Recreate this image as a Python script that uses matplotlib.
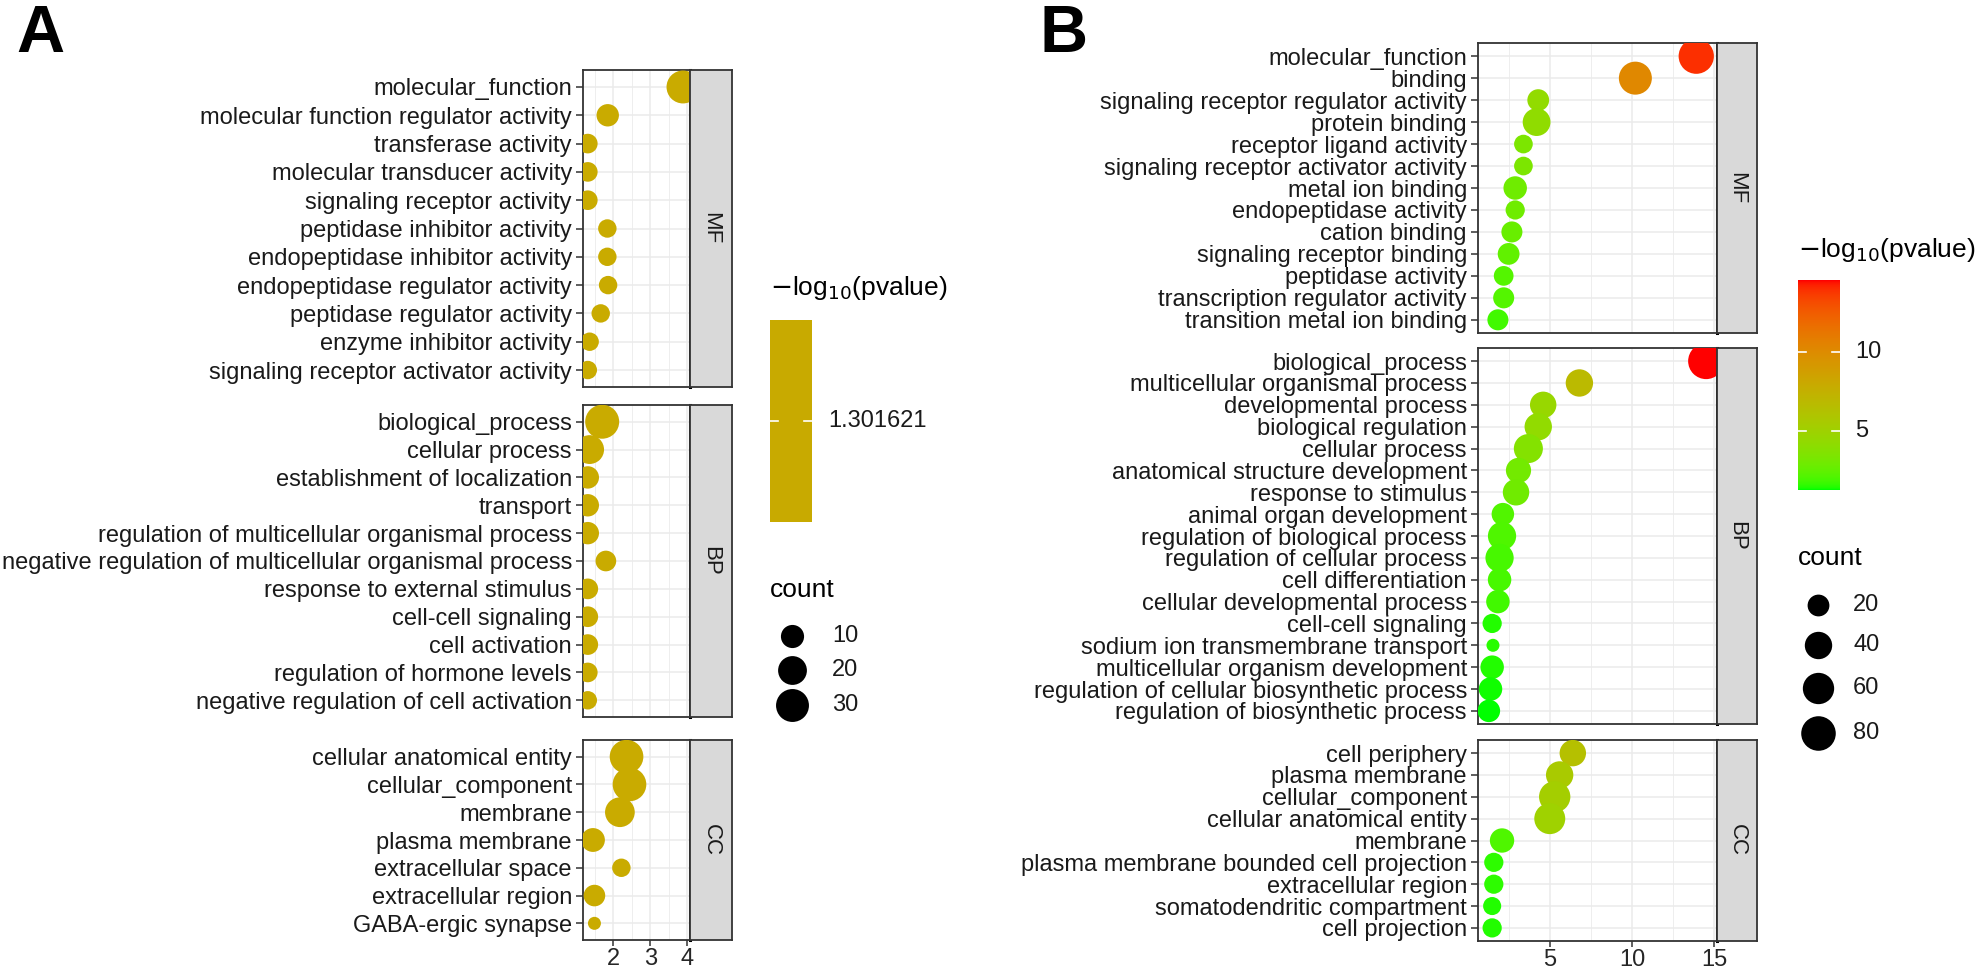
import numpy as np
import matplotlib
matplotlib.use('Agg')
import matplotlib.pyplot as plt
from matplotlib.colors import ListedColormap, Normalize

plt.rcParams['font.family'] = ['Liberation Sans', 'DejaVu Sans']

W, H = 1985, 975

# ---- panel A data ----
a_mf_terms = ['molecular_function', 'molecular function regulator activity', 'transferase activity',
              'molecular transducer activity', 'signaling receptor activity', 'peptidase inhibitor activity',
              'endopeptidase inhibitor activity', 'endopeptidase regulator activity',
              'peptidase regulator activity', 'enzyme inhibitor activity', 'signaling receptor activator activity']
a_mf_x = [3.89, 1.85, 1.31, 1.31, 1.31, 1.84, 1.84, 1.86, 1.66, 1.36, 1.31]
a_mf_count = [30, 9, 6, 6, 6, 5, 5, 5, 5, 5, 5]

a_bp_terms = ['biological_process', 'cellular process', 'establishment of localization', 'transport',
              'regulation of multicellular organismal process',
              'negative regulation of multicellular organismal process', 'response to external stimulus',
              'cell-cell signaling', 'cell activation', 'regulation of hormone levels',
              'negative regulation of cell activation']
a_bp_x = [1.70, 1.36, 1.31, 1.31, 1.31, 1.80, 1.31, 1.31, 1.31, 1.31, 1.31]
a_bp_count = [33, 20, 9, 9, 9, 7, 7, 7, 7, 6, 5]

a_cc_terms = ['cellular anatomical entity', 'cellular_component', 'membrane', 'plasma membrane',
              'extracellular space', 'extracellular region', 'GABA-ergic synapse']
a_cc_x = [2.36, 2.44, 2.18, 1.45, 2.22, 1.49, 1.49]
a_cc_count = [32, 32, 22, 11, 5, 8, 3]

a_pvalue = 1.301621

# ---- panel B data ----
b_mf_terms = ['molecular_function', 'binding', 'signaling receptor regulator activity', 'protein binding',
              'receptor ligand activity', 'signaling receptor activator activity', 'metal ion binding',
              'endopeptidase activity', 'cation binding', 'signaling receptor binding', 'peptidase activity',
              'transcription regulator activity', 'transition metal ion binding']
b_mf_x = [13.9, 10.2, 4.3, 4.2, 3.4, 3.4, 2.9, 2.9, 2.7, 2.5, 2.2, 2.2, 1.85]
b_mf_count = [85, 70, 20, 42, 13, 13, 25, 14, 18, 20, 15, 18, 18]

b_bp_terms = ['biological_process', 'multicellular organismal process', 'developmental process',
              'biological regulation', 'cellular process', 'anatomical structure development',
              'response to stimulus', 'animal organ development', 'regulation of biological process',
              'regulation of cellular process', 'cell differentiation', 'cellular developmental process',
              'cell-cell signaling', 'sodium ion transmembrane transport', 'multicellular organism development',
              'regulation of cellular biosynthetic process', 'regulation of biosynthetic process']
b_bp_x = [14.5, 6.8, 4.6, 4.3, 3.7, 3.1, 2.95, 2.15, 2.1, 1.95, 1.95, 1.85, 1.5, 1.55, 1.5, 1.4, 1.3]
b_bp_count = [90, 40, 36, 40, 48, 31, 36, 22, 44, 44, 25, 25, 14, 8, 25, 25, 22]

b_cc_terms = ['cell periphery', 'plasma membrane', 'cellular_component', 'cellular anatomical entity',
              'membrane', 'plasma membrane bounded cell projection', 'extracellular region',
              'somatodendritic compartment', 'cell projection']
b_cc_x = [6.4, 5.6, 5.3, 5.0, 2.1, 1.6, 1.6, 1.5, 1.5]
b_cc_count = [36, 40, 60, 58, 28, 14, 14, 12, 14]


# ---- colour scale: ggplot green -> red gradient, interpolated in Lab ----
M_RGB = np.array([[0.4124564, 0.3575761, 0.1804375],
                  [0.2126729, 0.7151522, 0.0721750],
                  [0.0193339, 0.1191920, 0.9503041]])
WHITE = np.array([0.95047, 1.0, 1.08883])


def to_lab(rgb):
    c = np.asarray(rgb, float)
    lin = np.where(c <= 0.04045, c / 12.92, ((c + 0.055) / 1.055) ** 2.4)
    t = (M_RGB @ lin) / WHITE
    f = np.where(t > (6 / 29) ** 3, np.cbrt(t), t / (3 * (6 / 29) ** 2) + 4 / 29)
    return np.array([116 * f[1] - 16, 500 * (f[0] - f[1]), 200 * (f[1] - f[2])])


def from_lab(lab):
    fy = (lab[0] + 16) / 116
    f = np.array([fy + lab[1] / 500, fy, fy - lab[2] / 200])
    t = np.where(f > 6 / 29, f ** 3, 3 * (6 / 29) ** 2 * (f - 4 / 29))
    lin = np.clip(np.linalg.inv(M_RGB) @ (t * WHITE), 0, 1)
    return np.where(lin <= 0.0031308, 12.92 * lin, 1.055 * lin ** (1 / 2.4) - 0.055)


lo, hi = to_lab([0, 1, 0]), to_lab([1, 0, 0])
cmap = ListedColormap([np.clip(from_lab(lo + (hi - lo) * t), 0, 1) for t in np.linspace(0, 1, 256)])
a_colour = cmap(0.5)

b_all_x = b_mf_x + b_bp_x + b_cc_x
b_norm = Normalize(min(b_all_x), max(b_all_x))


def px_rect(x0, y0, x1, y1):
    return [x0 / W, 1 - y1 / H, (x1 - x0) / W, (y1 - y0) / H]


def diam(counts, cmin, cmax, dmin, dmax):
    c = np.asarray(counts, float)
    return dmin + (dmax - dmin) * np.sqrt(np.clip((c - cmin) / (cmax - cmin), 0, 1))


fig = plt.figure(figsize=(W / 100, H / 100), dpi=100)
LBL = 17
TTL = 19
BORDER = '#333333'


def panel(rect, strip_rect, terms, xs, colours, d, xlim, major, minor, strip, show_x):
    ax = fig.add_axes(px_rect(*rect))
    y = np.arange(len(terms))
    ax.scatter(xs, y, s=(np.asarray(d) * 0.72) ** 2, c=colours, linewidths=0, zorder=3)
    ax.set_xlim(*xlim)
    ax.set_ylim(len(terms) - 0.4, -0.6)
    ax.set_yticks(y)
    ax.set_yticklabels(terms, fontsize=LBL, color='#1a1a1a')
    ax.set_xticks(major)
    ax.set_xticks(minor, minor=True)
    ax.grid(True, which='major', color='#EBEBEB', linewidth=1.1, zorder=0)
    ax.grid(True, which='minor', axis='x', color='#EBEBEB', linewidth=0.6, zorder=0)
    ax.set_axisbelow(True)
    ax.tick_params(axis='y', length=5, width=1.1, color=BORDER, pad=3)
    ax.tick_params(axis='x', which='major', length=4, width=1.1, color=BORDER, pad=2)
    ax.tick_params(axis='x', which='minor', length=0)
    if show_x:
        ax.set_xticklabels([str(v) for v in major], fontsize=LBL, color='#262626')
    else:
        ax.set_xticklabels([])
        ax.tick_params(axis='x', length=0)
    for sp in ax.spines.values():
        sp.set_color(BORDER)
        sp.set_linewidth(1.3)
    ax.spines['right'].set_linewidth(2.2)
    ax.spines['right'].set_color('black')

    sa = fig.add_axes(px_rect(*strip_rect))
    sa.set_facecolor('#D9D9D9')
    sa.set_xticks([])
    sa.set_yticks([])
    for sp in sa.spines.values():
        sp.set_color(BORDER)
        sp.set_linewidth(1.3)
    sa.text(0.5, 0.5, strip, rotation=270, ha='center', va='center', fontsize=16, color='#1a1a1a',
            transform=sa.transAxes)
    return ax


# ---- panel A ----
a_rows = [(70, 387, a_mf_terms, a_mf_x, a_mf_count, 'MF'),
          (405, 717, a_bp_terms, a_bp_x, a_bp_count, 'BP'),
          (740, 940, a_cc_terms, a_cc_x, a_cc_count, 'CC')]
for i, (y0, y1, terms, xs, cnt, lab) in enumerate(a_rows):
    panel((583, y0, 690, y1), (690, y0, 732, y1), terms, xs, [a_colour] * len(xs),
          diam(cnt, 3, 33, 13, 34), (1.18, 4.08), [2, 3, 4], [1.5, 2.5, 3.5], lab, i == 2)

# ---- panel B ----
b_rows = [(43, 333, b_mf_terms, b_mf_x, b_mf_count, 'MF'),
          (348, 724, b_bp_terms, b_bp_x, b_bp_count, 'BP'),
          (740, 941, b_cc_terms, b_cc_x, b_cc_count, 'CC')]
for i, (y0, y1, terms, xs, cnt, lab) in enumerate(b_rows):
    panel((1478, y0, 1717, y1), (1717, y0, 1757, y1), terms, xs, cmap(b_norm(np.asarray(xs))),
          diam(cnt, 8, 90, 13, 36), (0.64, 15.16), [5, 10, 15], [2.5, 7.5, 12.5], lab, i == 2)

# ---- panel letters ----
fig.text(16 / W, 1 - 52 / H, 'A', fontsize=48, fontweight='bold', ha='left', va='baseline')
fig.text(1040 / W, 1 - 52 / H, 'B', fontsize=48, fontweight='bold', ha='left', va='baseline')

# ---- colour legends ----
title = r'$-$log$_{10}$(pvalue)'
fig.text(770 / W, 1 - 288 / H, title, fontsize=TTL, ha='left', va='center')
ca = fig.add_axes(px_rect(770, 320, 812, 522))
ca.imshow([[a_colour]], aspect='auto', extent=(0, 1, 0, 1))
ca.plot([0, 0.2], [0.5, 0.5], color='white', lw=1.2)
ca.plot([0.8, 1], [0.5, 0.5], color='white', lw=1.2)
ca.set_xlim(0, 1)
ca.set_ylim(0, 1)
ca.axis('off')
fig.text(828 / W, 1 - 421 / H, f'{a_pvalue:.6f}', fontsize=LBL, ha='left', va='center', color='#1a1a1a')

fig.text(1798 / W, 1 - 250 / H, title, fontsize=TTL, ha='left', va='center')
cb = fig.add_axes(px_rect(1798, 280, 1840, 490))
grad = np.linspace(b_norm.vmin, b_norm.vmax, 256)[:, None]
cb.imshow(grad, aspect='auto', cmap=cmap, norm=b_norm, origin='lower',
          extent=(0, 1, b_norm.vmin, b_norm.vmax))
for t in [5, 10]:
    cb.plot([0, 0.2], [t, t], color='white', lw=1.2)
    cb.plot([0.8, 1], [t, t], color='white', lw=1.2)
    fig.text(1855 / W, 1 - (490 - (t - b_norm.vmin) / (b_norm.vmax - b_norm.vmin) * 210) / H, str(t),
             fontsize=LBL, ha='left', va='center', color='#1a1a1a')
cb.set_xlim(0, 1)
cb.set_ylim(b_norm.vmin, b_norm.vmax)
cb.axis('off')

# ---- size legends ----
fig.text(770 / W, 1 - 590 / H, 'count', fontsize=TTL, ha='left', va='center')
for c, yy in zip([10, 20, 30], [636, 670, 705]):
    d = diam([c], 3, 33, 13, 34)[0]
    la = fig.add_axes(px_rect(772, yy - 20, 812, yy + 20))
    la.scatter([0.5], [0.5], s=(d * 0.72) ** 2, color='black', linewidths=0)
    la.set_xlim(0, 1)
    la.set_ylim(0, 1)
    la.axis('off')
    fig.text(832 / W, 1 - yy / H, str(c), fontsize=LBL, ha='left', va='center', color='#1a1a1a')

fig.text(1798 / W, 1 - 558 / H, 'count', fontsize=TTL, ha='left', va='center')
for c, yy in zip([20, 40, 60, 80], [605, 645, 688, 733]):
    d = diam([c], 8, 90, 13, 36)[0]
    la = fig.add_axes(px_rect(1798, yy - 22, 1838, yy + 22))
    la.scatter([0.5], [0.5], s=(d * 0.72) ** 2, color='black', linewidths=0)
    la.set_xlim(0, 1)
    la.set_ylim(0, 1)
    la.axis('off')
    fig.text(1853 / W, 1 - yy / H, str(c), fontsize=LBL, ha='left', va='center', color='#1a1a1a')

fig.savefig('out.png', dpi=100, facecolor='white')
